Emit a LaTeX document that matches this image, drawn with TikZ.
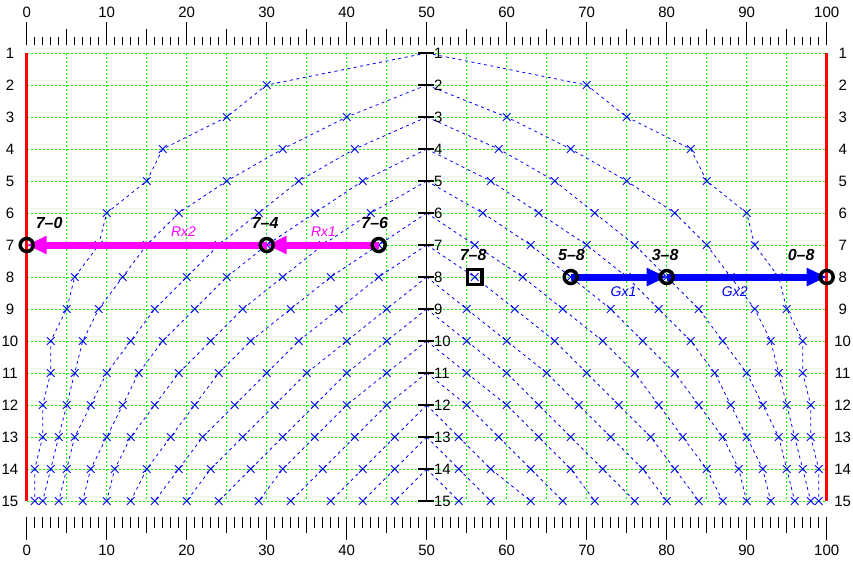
\documentclass[tikz,border=0pt]{standalone}
\usepackage{fontspec}
\setmainfont{Liberation Sans}
\usetikzlibrary{arrows.meta}
\definecolor{gridgreen}{RGB}{0,255,0}
\definecolor{mblue}{RGB}{0,0,255}
\definecolor{mmag}{RGB}{255,0,255}
\definecolor{mred}{RGB}{255,0,0}
\tikzset{
  gridl/.style={draw=gridgreen, line width=1pt, dash pattern=on 2pt off 2pt},
  redl/.style={draw=mred, line width=3pt},
  axl/.style={draw=black, line width=1.2pt},
  tickl/.style={draw=black, line width=1pt},
  crv/.style={draw=mblue, line width=0.8pt, dash pattern=on 3pt off 3.5pt},
  xmk/.style={draw=mblue, line width=0.8pt},
  axnum/.style={font=\fontsize{15}{18}\selectfont, inner sep=0pt},
  ptlab/.style={font=\fontsize{16}{19}\selectfont\bfseries\itshape, inner sep=0pt},
  arrlab/.style={font=\fontsize{14}{17}\selectfont\itshape, inner sep=0pt},
  ring/.style={circle, draw=black, line width=3.5pt, minimum size=13pt, inner sep=0pt},
  sqbox/.style={rectangle, draw=black, line width=3.5pt, minimum size=14.8pt, inner sep=0pt},
  magarr/.style={draw=mmag, line width=7pt, -{Triangle[length=20pt,width=17pt]}},
  bluarr/.style={draw=mblue, line width=7pt, -{Triangle[length=20pt,width=17pt]}},
}
\newcommand\drawcurve[3]{%
  \pgfmathtruncatemacro\cst{#1+1}%
  \draw[crv] (50,#1) foreach \vv [count=\rw from \cst] in {#2} { -- (\vv,\rw) };
  \draw[crv] (50,#1) foreach \vv [count=\rw from \cst] in {#3} { -- ({100-\vv},\rw) };
  \foreach \vv [count=\rw from \cst] in {#2}
    \draw[xmk] (\vv,\rw) +(-3.8pt,-3.8pt) -- +(3.8pt,3.8pt) +(-3.8pt,3.8pt) -- +(3.8pt,-3.8pt);
  \foreach \vv [count=\rw from \cst] in {#3}
    \draw[xmk] ({100-\vv},\rw) +(-3.8pt,-3.8pt) -- +(3.8pt,3.8pt) +(-3.8pt,3.8pt) -- +(3.8pt,-3.8pt);
}
\begin{document}
\begin{tikzpicture}[x=8pt,y=-32pt]
\useasboundingbox (-3.3375,-0.65625) rectangle (103.2875,16.9375);
\fill[white] (-3.3375,-0.65625) rectangle (103.2875,16.9375);
% grid
\foreach \r in {1,...,15} \draw[gridl] (0,\r) -- (100,\r);
\foreach \x in {5,10,...,45,55,60,...,95} \draw[gridl] (\x,1) -- (\x,15);
% red borders
\draw[redl] (0,1) -- (0,15);
\draw[redl] (100,1) -- (100,15);
% top and bottom scales
\foreach \x in {0,...,100} {
  \draw[tickl] (\x,0.75) -- ++(0,8.3pt);
  \draw[tickl] (\x,15.49) -- ++(0,-11pt);
}
\foreach \x in {5,15,...,95} {
  \draw[tickl] (\x,0.75) -- ++(0,15.7pt);
  \draw[tickl] (\x,15.49) -- ++(0,-16pt);
}
\foreach \x in {0,10,...,100} {
  \draw[tickl] (\x,0.75) -- ++(0,23.3pt);
  \draw[tickl] (\x,15.49) -- ++(0,-23.3pt);
  \node[axnum] (tn\x) at (\x,-0.26) {\x};
  \node[axnum] (bn\x) at (\x,16.53) {\x};
}
% row labels
\foreach \r in {1,...,15} {
  \node[axnum] (ln\r) at (-2.09,\r) {\r};
  \node[axnum] (rn\r) at (102.0,\r) {\r};
}
% curves
\drawcurve{1}{30,25,17,15,10,9,6,5,3,3,2,2,1,1}{30,25,17,15,10,9,6,5,3,3,2,2,1,1}
\drawcurve{2}{40,32,25,19,15,12,9,7,6,5,4,3,2}{40,32,25,19,15,12,9,7,6,5,4,3,2}
\drawcurve{3}{41,34,29,24,20,16,13,10,8,6,5,4}{41,34,29,24,20,16,13,10,8,6,5,4}
\drawcurve{4}{42,36,30,25,21,17,14,12,10,8,7}{42,36,30,25,21,17,14,12,10,8,7}
\drawcurve{5}{43,37,32,27,23,19,16,13,11,10}{43,37,32,27,23,19,16,13,11,10}
\drawcurve{6}{44,38,33,28,24,21,18,15,13}{44,38,33,28,24,21,18,15,13}
\drawcurve{7}{44,39,34,30,26,22,19,16}{44,39,34,30,26,22,19,16}
\drawcurve{8}{45,40,35,31,27,23,20}{45,40,35,31,27,23,20}
\drawcurve{9}{45,40,36,32,28,24}{45,40,36,32,28,24}
\drawcurve{10}{45,40,36,32,29}{45,40,36,32,29}
\drawcurve{11}{45,41,37,33}{45,41,37,33}
\drawcurve{12}{46,42,38}{46,42,37}
\drawcurve{13}{46,42}{46,42}
\drawcurve{14}{46}{46}
% centre axis
\draw[axl] (50,1) -- (50,15);
\foreach \r in {1,...,15} {
  \draw[axl] (48.95,\r) -- (50.85,\r);
  \node[axnum, anchor=west] (cn\r) at (50.9,\r) {\r};
}
% key points
\coordinate (p70) at (0,7);
\coordinate (p74) at (30,7);
\coordinate (p76) at (44,7);
\coordinate (p78) at (56,8);
\coordinate (p58) at (68,8);
\coordinate (p38) at (80,8);
\coordinate (p08) at (100,8);
% arrows
\draw[magarr] (p76) -- (p74);
\draw[magarr] (p74) -- (p70);
\draw[bluarr] (p58) -- (p38);
\draw[bluarr] (p38) -- (p08);
% markers
\node[ring] (m70) at (p70) {};
\node[ring] (m74) at (p74) {};
\node[ring] (m76) at (p76) {};
\node[sqbox] (m78) at (p78) {};
\node[ring] (m58) at (p58) {};
\node[ring] (m38) at (p38) {};
\node[ring] (m08) at (p08) {};
% labels
\node[ptlab] (l70) at (2.8,6.30) {7\textendash0};
\node[ptlab] (l74) at (29.8,6.30) {7\textendash4};
\node[ptlab] (l76) at (43.5,6.30) {7\textendash6};
\node[ptlab] (l78) at (55.8,7.31) {7\textendash8};
\node[ptlab] (l58) at (68.1,7.31) {5\textendash8};
\node[ptlab] (l38) at (79.8,7.31) {3\textendash8};
\node[ptlab] (l08) at (96.8,7.31) {0\textendash8};
\node[arrlab, text=mmag] (rx2) at (19.6,6.58) {Rx2};
\node[arrlab, text=mmag] (rx1) at (37.1,6.58) {Rx1};
\node[arrlab, text=mblue] (gx1) at (74.6,8.46) {Gx1};
\node[arrlab, text=mblue] (gx2) at (88.5,8.46) {Gx2};
\end{tikzpicture}
\end{document}
